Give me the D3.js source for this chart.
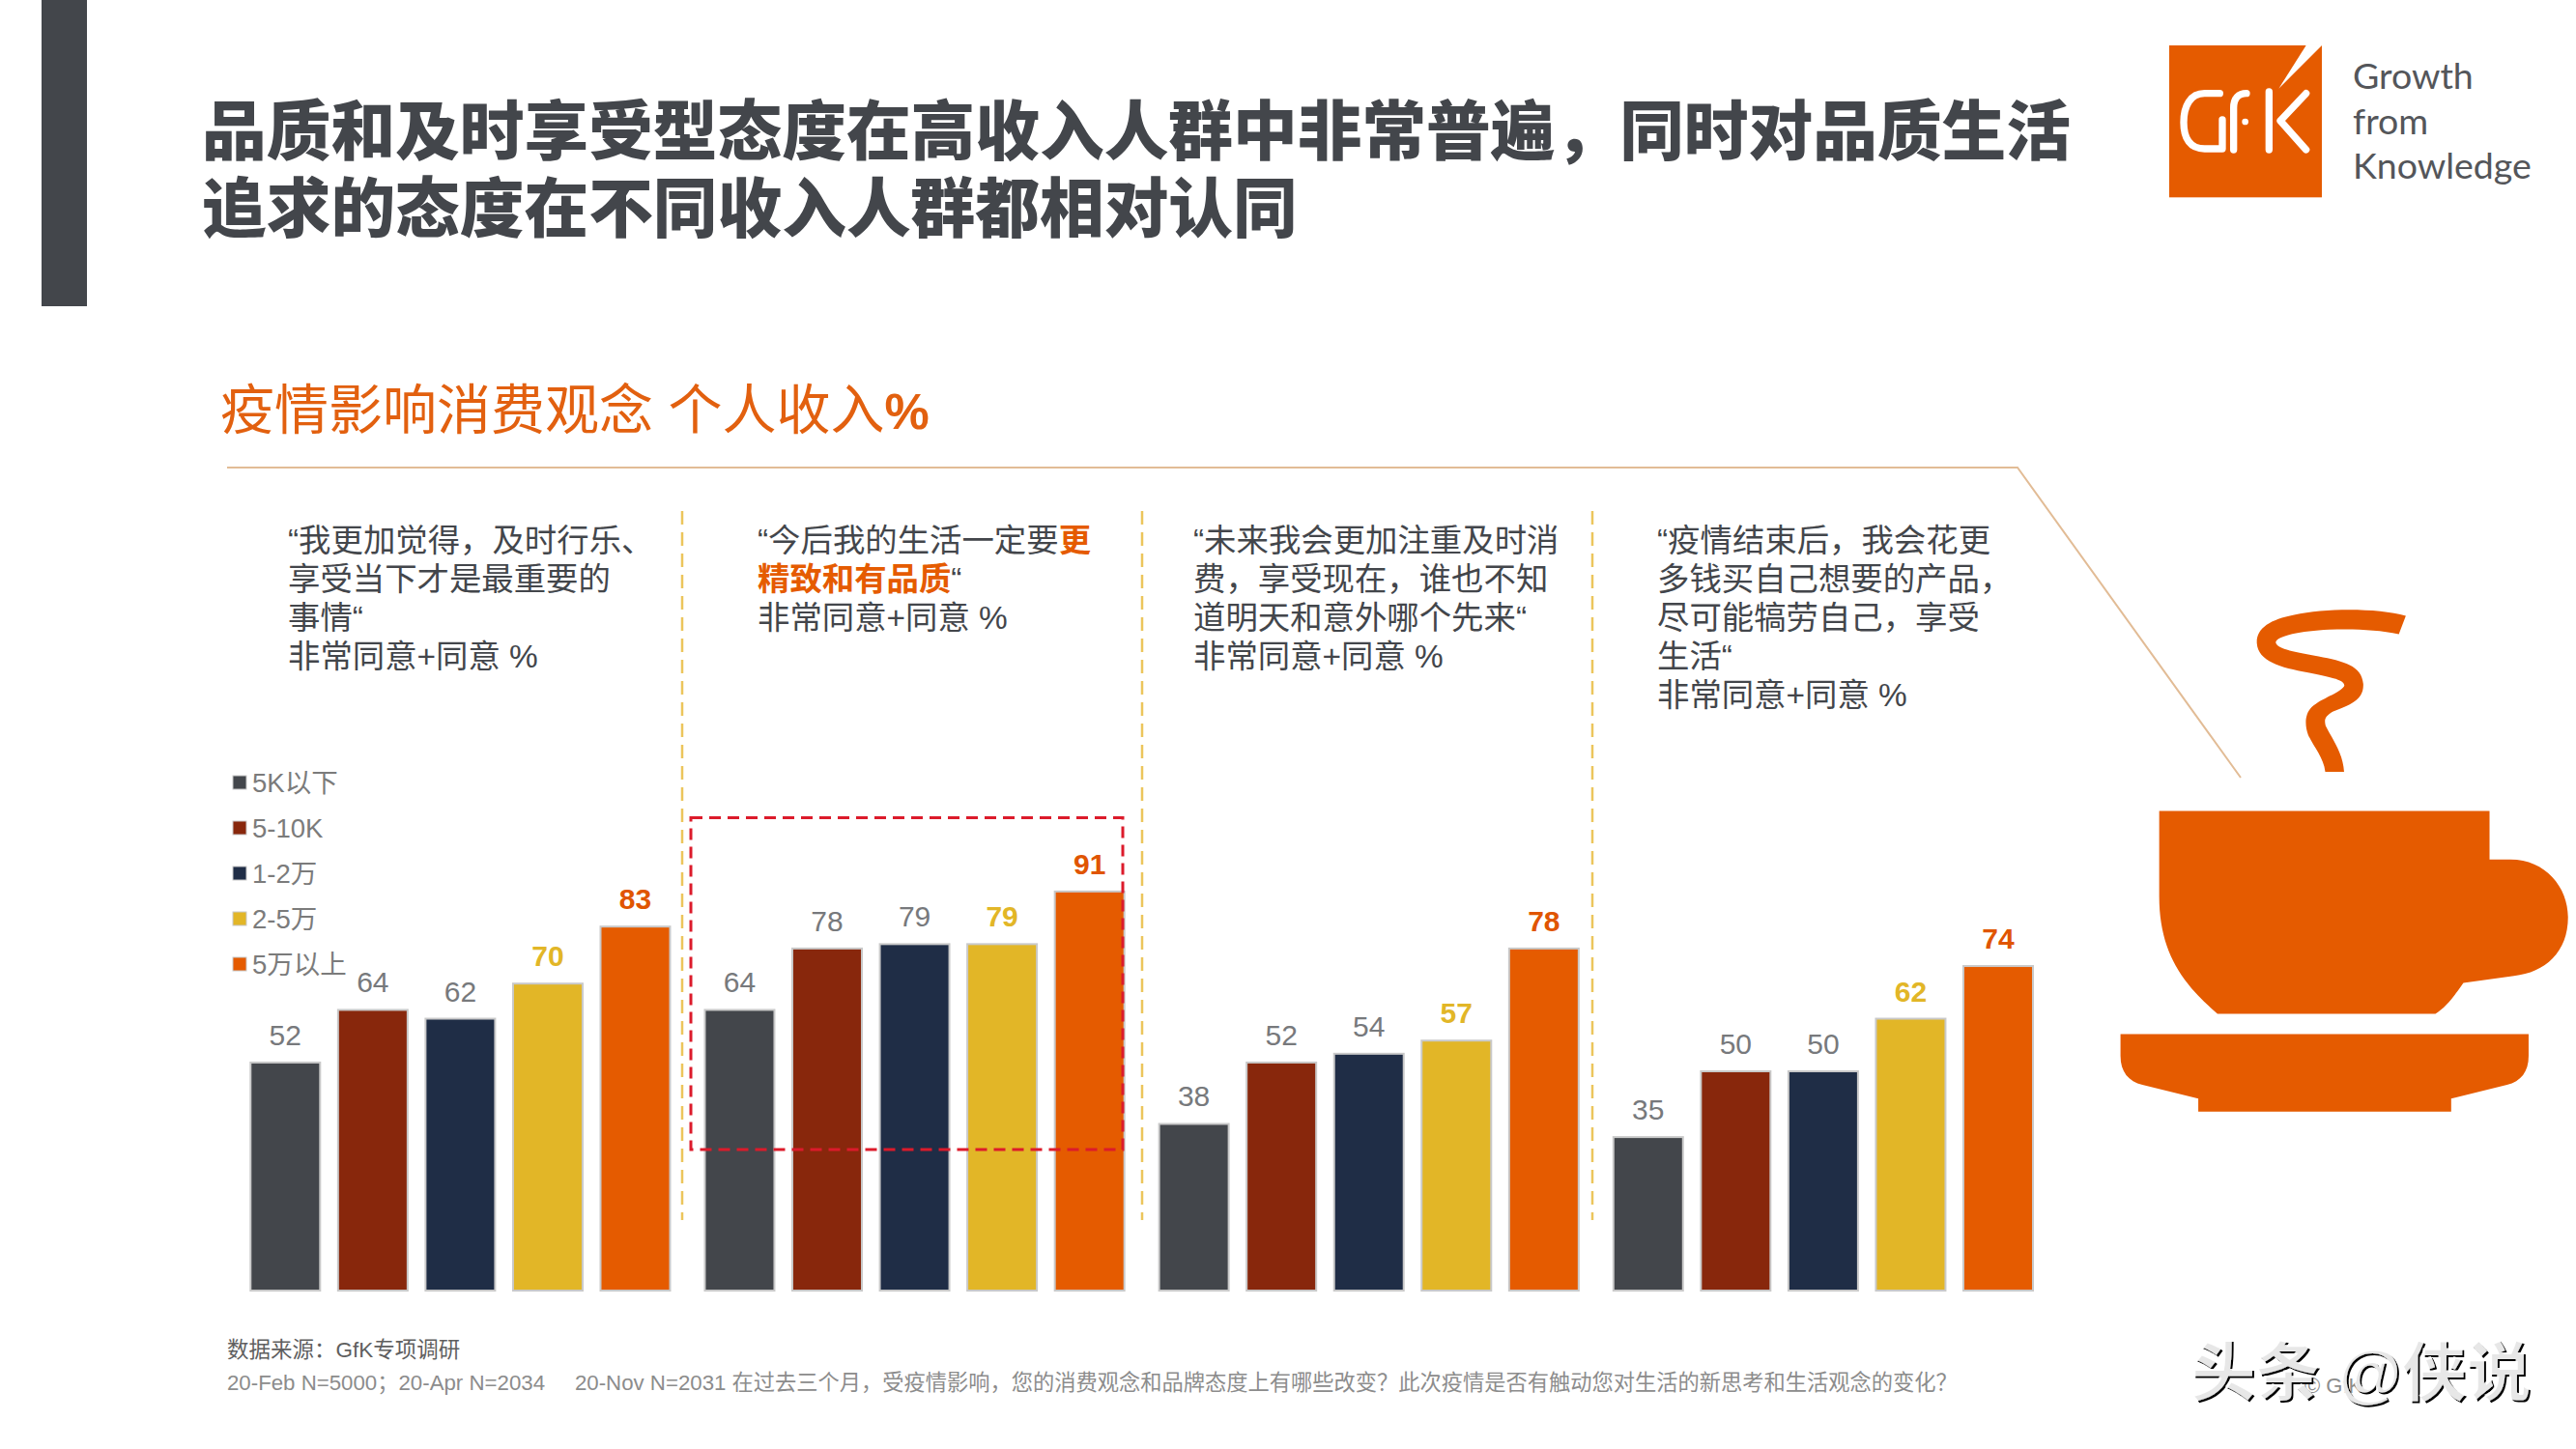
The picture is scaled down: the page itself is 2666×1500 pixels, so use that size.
<!DOCTYPE html>
<html>
<head>
<meta charset="utf-8">
<script src="https://cdn.jsdelivr.net/npm/d3@7"></script>
<style>
  html, body { margin: 0; padding: 0; background: #fff; }
  svg { display: block; }
  text { font-family: "Liberation Sans", "Noto Sans CJK SC", sans-serif; white-space: pre; }
</style>
</head>
<body>
<div id="my_dataviz"></div>
<script>

// one entry per statement
var statements = ["及时行乐", "精致和有品质", "及时消费", "犒劳自己"];

var incomeLevels = ["5K以下", "5-10K", "1-2万", "2-5万", "5万以上"];
var incomeColors = ["#43464b", "#88270c", "#1f2d46", "#e2b627", "#e55b00"];
var labelColors = ["#77797c", "#77797c", "#77797c", "#e2b627", "#e05500"];

// values per income level, in statement order
var below5k = [52, 64, 38, 35];
var from5to10k = [64, 78, 52, 50];
var from1to2w = [62, 79, 54, 50];
var from2to5w = [70, 79, 57, 62];
var above5w = [83, 91, 78, 74];
var seriesValues = [below5k, from5to10k, from1to2w, from2to5w, above5w];

var quoteLines = [
  ["“我更加觉得，及时行乐、", "享受当下才是最重要的", "事情“", "非常同意+同意 %"],
  ["“今后我的生活一定要<b>更", "<b>精致和有品质</b>“", "非常同意+同意 %"],
  ["“未来我会更加注重及时消", "费，享受现在，谁也不知", "道明天和意外哪个先来“", "非常同意+同意 %"],
  ["“疫情结束后，我会花更", "多钱买自己想要的产品，", "尽可能犒劳自己，享受", "生活“", "非常同意+同意 %"]
];
var quoteX = [298, 784, 1235, 1715];

var titleLines = ["品质和及时享受型态度在高收入人群中非常普遍，同时对品质生活", "追求的态度在不同收入人群都相对认同"];
var logoWords = ["Growth", "from", "Knowledge"];
var sourceLine = "数据来源：GfK专项调研";
var noteLine = "20-Feb N=5000；20-Apr N=2034     20-Nov N=2031 在过去三个月，受疫情影响，您的消费观念和品牌态度上有哪些改变？此次疫情是否有触动您对生活的新思考和生活观念的变化？";

var orange = "#e55b00";

var svg = d3.select("#my_dataviz")
  .append("svg")
    .attr("width", 2666)
    .attr("height", 1500)
    .attr("viewBox", "0 0 2666 1500");

// left bar
svg.append("rect").attr("x", 43).attr("y", 0).attr("width", 47).attr("height", 317).attr("fill", "#43464b");

// title
svg.selectAll(".title").data(titleLines).enter().append("text")
    .attr("class", "title")
    .attr("x", 209)
    .attr("y", function(d, i) { return 160 + i * 80; })
    .attr("font-size", 66.7)
    .attr("font-weight", 900)
    .attr("fill", "#43464b")
    .text(function(d) { return d; });

// subtitle
var sub = svg.append("text").attr("x", 228).attr("y", 444).attr("font-size", 56).attr("fill", "#e2600f");
sub.append("tspan").attr("font-weight", 400).text("疫情影响消费观念 个人收入");
sub.append("tspan").attr("font-weight", 700).attr("font-size", 52).text("%");

// bracket line above the panels
svg.append("path")
    .attr("d", "M235,484 L2088,484 L2319,805")
    .attr("fill", "none")
    .attr("stroke", "#e2bc96")
    .attr("stroke-width", 2);

// separators between the panels
svg.selectAll(".sep").data([706, 1182, 1648]).enter().append("line")
    .attr("class", "sep")
    .attr("x1", function(d) { return d; })
    .attr("x2", function(d) { return d; })
    .attr("y1", 529)
    .attr("y2", 1263)
    .attr("stroke", "#ecc55c")
    .attr("stroke-width", 2.5)
    .attr("stroke-dasharray", "14,8");

// scales
var x0 = d3.scaleBand().domain(statements).range([259.3, 2104]).paddingInner(0.0765);
var x1 = d3.scaleBand().domain(incomeLevels).range([0, x0.bandwidth()]).paddingInner(0.205);
var y = d3.scaleLinear().domain([0, 100]).range([1336, 882]);

// bars, one group per income level
var series = svg.selectAll(".series").data(incomeLevels).enter().append("g")
    .attr("class", "series");

series.selectAll("rect")
    .data(function(d, i) { return seriesValues[i].map(function(v, j) { return { level: d, statement: statements[j], value: v }; }); })
    .enter().append("rect")
    .attr("x", function(d) { return x0(d.statement) + x1(d.level); })
    .attr("y", function(d) { return y(d.value); })
    .attr("width", x1.bandwidth())
    .attr("height", function(d) { return y(0) - y(d.value); })
    .attr("fill", function(d, i) { return incomeColors[incomeLevels.indexOf(d.level)]; })
    .attr("stroke", "#c9c9c9")
    .attr("stroke-width", 2);

series.selectAll("text")
    .data(function(d, i) { return seriesValues[i].map(function(v, j) { return { level: d, statement: statements[j], value: v }; }); })
    .enter().append("text")
    .attr("x", function(d) { return x0(d.statement) + x1(d.level) + x1.bandwidth() / 2; })
    .attr("y", function(d) { return y(d.value) - 18; })
    .attr("text-anchor", "middle")
    .attr("font-size", 30)
    .attr("font-weight", function(d) { return incomeLevels.indexOf(d.level) > 2 ? 700 : 400; })
    .attr("fill", function(d) { return labelColors[incomeLevels.indexOf(d.level)]; })
    .text(function(d) { return d.value; });

// red highlight around the second panel
svg.append("rect")
    .attr("x", 715).attr("y", 846.5).attr("width", 447).attr("height", 343.5)
    .attr("fill", "none")
    .attr("stroke", "#dc1b2b")
    .attr("stroke-width", 3)
    .attr("stroke-dasharray", "12,7");

// legend
var legend = svg.selectAll(".legend").data(incomeLevels).enter().append("g")
    .attr("class", "legend")
    .attr("transform", function(d, i) { return "translate(241," + (810 + i * 47) + ")"; });
legend.append("rect")
    .attr("y", -7).attr("width", 14).attr("height", 14)
    .attr("fill", function(d, i) { return incomeColors[i]; })
    .attr("stroke", "#c9c9c9");
legend.append("text")
    .attr("x", 20).attr("y", 10)
    .attr("font-size", 27.5)
    .attr("fill", "#7b7b7b")
    .text(function(d) { return d; });

// quotes
quoteLines.forEach(function(lines, q) {
  lines.forEach(function(line, i) {
    var t = svg.append("text")
        .attr("x", quoteX[q])
        .attr("y", 571 + i * 40)
        .attr("font-size", 33.4)
        .attr("fill", "#43464b");
    var open = false;
    line.split(/(<b>|<\/b>)/).forEach(function(part) {
      if (part === "<b>") { open = true; return; }
      if (part === "</b>") { open = false; return; }
      if (!part) return;
      t.append("tspan")
          .attr("font-weight", open ? 700 : 400)
          .attr("fill", open ? orange : "#43464b")
          .text(part);
    });
  });
});

// footer
svg.append("text").attr("x", 235).attr("y", 1405).attr("font-size", 22.5).attr("fill", "#5f5f5f").text(sourceLine);
svg.append("text").attr("x", 235).attr("y", 1439).attr("font-size", 22.26).attr("fill", "#8c8c8c").text(noteLine);

// logo
var logo = svg.append("g").attr("transform", "translate(2150,0) scale(0.3333)");
logo.append("rect").attr("x", 285).attr("y", 141).attr("width", 474).attr("height", 472).attr("fill", orange);
logo.append("path").attr("d", "M710,141 L759,141 L625,275 Z").attr("fill", "#fff");
logo.append("path")
    .attr("d", "M442,290 L395,290 C350,290 330,330 330,380 C330,430 350,462 395,462 L450,462 L450,372 "
      + "M485,465 L485,335 C485,305 500,290 525,290 "
      + "M595,285 L595,465 M710,290 L630,375 L710,465")
    .attr("fill", "none")
    .attr("stroke", "#fff")
    .attr("stroke-width", 22)
    .attr("stroke-linecap", "round")
    .attr("stroke-linejoin", "round");
logo.append("circle").attr("cx", 521).attr("cy", 378).attr("r", 10).attr("fill", "#fff");

svg.selectAll(".logoword").data(logoWords).enter().append("text")
    .attr("class", "logoword")
    .attr("x", 2435)
    .attr("y", function(d, i) { return 92 + i * 46.5; })
    .attr("font-size", 37.5)
    .attr("fill", "#54565a")
    .style("font-family", "Lato")
    .text(function(d) { return d; });

// coffee cup
var cup = svg.append("g").attr("transform", "translate(2100,450) scale(0.361,0.478)").attr("fill", orange);
cup.append("path").attr("d", "M373,815 L1320,815 L1320,920 L1380,920 C1480,920 1545,980 1545,1045 C1545,1120 1480,1165 1390,1172 L1245,1187 C1220,1215 1195,1240 1165,1254 L540,1254 C440,1190 373,1120 373,1000 Z");
cup.append("path").attr("d", "M262,1298 L1432,1298 L1432,1345 C1432,1380 1410,1400 1370,1408 L1210,1438 L1210,1466 L485,1466 L485,1438 L325,1408 C285,1400 262,1380 262,1345 Z");
cup.append("path").attr("d", "M1080,392 C1000,375 850,375 760,390 C690,400 650,420 653,452 C656,490 720,505 800,515 C860,525 910,530 903,545 C890,560 840,570 810,590 C790,605 790,630 800,650 C815,675 845,700 849,730 L903,730 C900,690 870,660 850,630 C845,615 850,610 870,600 C920,585 960,575 958,540 C955,500 900,490 830,480 C770,472 710,465 707,450 C710,435 780,425 860,422 C930,420 1000,422 1060,432 Z");

// copyright under the watermark
svg.append("text").attr("x", 2385).attr("y", 1442).attr("font-size", 22).attr("fill", "#8c8c8c").text("© GfK");

// watermark: black text cut by a white copy of itself
var emboss = svg.append("defs").append("filter").attr("id", "emboss")
    .attr("x", "-5%").attr("y", "-10%").attr("width", "110%").attr("height", "120%");
emboss.append("feOffset").attr("in", "SourceGraphic").attr("dx", -1.6).attr("dy", -1.6).attr("result", "shifted");
emboss.append("feColorMatrix").attr("in", "shifted").attr("type", "matrix")
    .attr("values", "0 0 0 0 1  0 0 0 0 1  0 0 0 0 1  0 0 0 0.8 0").attr("result", "white");
var merge = emboss.append("feMerge");
merge.append("feMergeNode").attr("in", "SourceGraphic");
merge.append("feMergeNode").attr("in", "white");

svg.append("text")
    .attr("x", 2269).attr("y", 1446)
    .attr("font-size", 67)
    .attr("font-weight", 700)
    .attr("fill", "#000")
    .attr("filter", "url(#emboss)")
    .text("头条 @侠说");

</script>
</body>
</html>
